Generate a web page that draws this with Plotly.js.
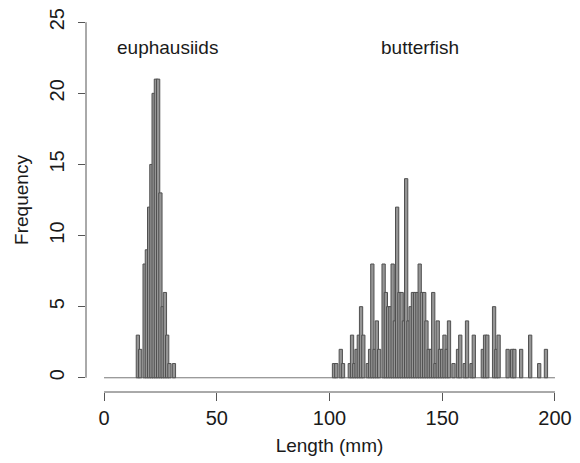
<!DOCTYPE html>
<html>
<head>
<meta charset="utf-8">
<script src="https://cdn.plot.ly/plotly-3.0.1.min.js"></script>
<style>html,body{margin:0;padding:0;background:#fff;}</style>
</head>
<body>
<div id="chart" style="width:580px;height:463px;"></div>
<script>
// Euphausiids: length (mm) and frequency
const euphLength = [15, 16, 18, 19, 20, 21, 22, 23, 24, 25, 26, 27, 28, 29, 31];
const euphFreq   = [3, 2, 8, 9, 12, 15, 20, 21, 21, 13, 5, 6, 3, 1, 1];

// Butterfish: length (mm) and frequency
const butterLength = [102, 103, 105, 106, 109, 110, 111, 112, 113, 114, 115, 117, 118, 119, 120, 121, 122,
  124, 125, 126, 127, 128, 129, 130, 131, 132, 133, 134, 135, 136, 137, 138, 139, 140, 141, 142, 143, 144, 145,
  146, 147, 148, 149, 150, 151, 152, 153, 155, 157, 158, 160, 161, 163, 164, 168, 169, 170, 173, 174, 175,
  179, 181, 182, 185, 189, 193, 196];
const butterFreq = [1, 1, 2, 1, 1, 3, 1, 2, 3, 5, 3, 1, 2, 8, 2, 4, 2,
  8, 6, 5, 5, 8, 4, 12, 6, 6, 4, 14, 4, 5, 6, 6, 6, 8, 6, 6, 4, 2, 2,
  6, 1, 4, 2, 2, 3, 2, 4, 1, 2, 3, 1, 4, 1, 3, 2, 3, 3, 5, 2, 3,
  2, 2, 2, 2, 3, 1, 2];

const xTicks = [0, 50, 100, 150, 200];
const yTicks = [0, 5, 10, 15, 20, 25];
const groupLabels = ['euphausiids', 'butterfish'];
const groupLabelX = [28, 140];

const barStyle = {color: '#959595', line: {color: '#505050', width: 1}};
const font = {family: 'Liberation Sans, Arial, sans-serif', size: 19, color: '#1a1a1a'};
const tickFont = {family: 'Liberation Sans, Arial, sans-serif', size: 20, color: '#1a1a1a'};

const traces = [
  {type: 'bar', x: euphLength, y: euphFreq, width: 1.45, marker: barStyle, showlegend: false, hoverinfo: 'x+y'},
  {type: 'bar', x: butterLength, y: butterFreq, width: 1.45, marker: barStyle, showlegend: false, hoverinfo: 'x+y'}
];

const layout = {
  width: 580, height: 463,
  margin: {l: 86, r: 7, t: 8, b: 71},
  paper_bgcolor: '#ffffff', plot_bgcolor: '#ffffff',
  barmode: 'overlay',
  font: font,
  xaxis: {
    range: [-8, 208], tickvals: xTicks, ticktext: xTicks.map(String),
    ticks: 'outside', ticklen: 8, tickcolor: '#555', tickwidth: 1,
    showgrid: false, zeroline: false, showline: false,
    tickfont: tickFont,
    title: {text: 'Length (mm)', font: font, standoff: 10}
  },
  yaxis: {
    range: [-1, 26], tickvals: yTicks, ticktext: yTicks.map(String),
    ticks: 'outside', ticklen: 7, tickcolor: '#555', tickwidth: 1, tickangle: -90,
    ticklabelstandoff: 6,
    showgrid: false, zeroline: false, showline: false,
    tickfont: tickFont,
    title: {text: 'Frequency', font: font, standoff: 12}
  },
  shapes: [
    {type: 'line', xref: 'x', yref: 'paper', x0: 0, x1: 200, y0: 0, y1: 0, line: {color: '#555', width: 1}},
    {type: 'line', xref: 'paper', yref: 'y', x0: 0, x1: 0, y0: 0, y1: 25, line: {color: '#555', width: 1}},
    {type: 'line', xref: 'x', yref: 'y', x0: 0, x1: 200, y0: 0, y1: 0, line: {color: '#777', width: 1}, layer: 'below'}
  ],
  annotations: groupLabels.map((t, i) => ({
    text: t, x: groupLabelX[i], y: 23.2, xref: 'x', yref: 'y', showarrow: false, font: font
  }))
};

Plotly.newPlot('chart', traces, layout, {displayModeBar: false, staticPlot: true});
</script>
</body>
</html>
